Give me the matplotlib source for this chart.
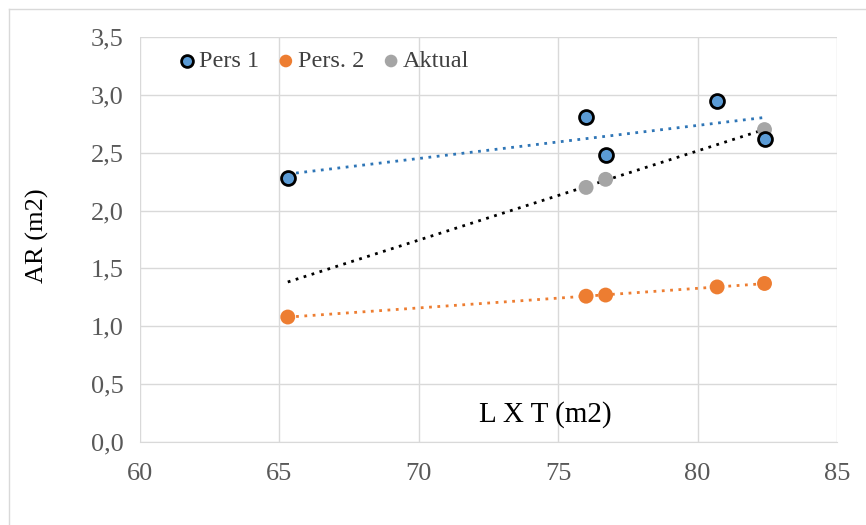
import numpy as np
import matplotlib
matplotlib.use("Agg")
import matplotlib.pyplot as plt
from matplotlib.lines import Line2D
from matplotlib.ticker import FuncFormatter

# ── Data ──────────────────────────────────────────────────────────────────────
x_pers1  = [65.3, 76.0, 76.7, 80.7, 82.4]
y_pers1  = [2.28, 2.81, 2.48, 2.95, 2.62]

x_pers2  = [65.3, 76.0, 76.7, 80.7, 82.4]
y_pers2  = [1.08, 1.26, 1.27, 1.34, 1.37]

x_aktual = [76.0, 76.7, 82.4]
y_aktual = [2.20, 2.27, 2.70]

x_ticks = [60, 65, 70, 75, 80, 85]
y_ticks = [0.0, 0.5, 1.0, 1.5, 2.0, 2.5, 3.0, 3.5]

plt.rcParams["font.family"] = ["Liberation Serif", "DejaVu Serif"]

fig = plt.figure(figsize=(8.66, 5.25), dpi=100)
ax = fig.add_axes([140 / 866, 1 - 442 / 525, 697 / 866, 405 / 525])

# chart-area frame (left and top edges visible)
fig.add_artist(Line2D([9 / 866, 9 / 866], [0, 1 - 9 / 525], color="#d9d9d9", lw=1))
fig.add_artist(Line2D([9 / 866, 1], [1 - 9 / 525, 1 - 9 / 525], color="#d9d9d9", lw=1))

# ── Trendlines ────────────────────────────────────────────────────────────────
xr = np.array([min(x_pers1), max(x_pers1)])
for xs, ys, col in [(x_pers1, y_pers1, "#2E75B6"),
                    (x_pers2, y_pers2, "#ED7D31"),
                    (x_aktual, y_aktual, "#000000")]:
    k, b = np.polyfit(xs, ys, 1)
    ax.plot(xr, k * xr + b, color=col, lw=2, linestyle=(0, (1, 2)), zorder=2)

# ── Scatter ───────────────────────────────────────────────────────────────────
ax.scatter(x_pers1, y_pers1, s=100, color="#5B9BD5", edgecolor="black",
           linewidth=2, zorder=4, label="Pers 1")
ax.scatter(x_pers2, y_pers2, s=115, color="#ED7D31", edgecolor="none",
           zorder=3, label="Pers. 2")
ax.scatter(x_aktual, y_aktual, s=115, color="#A5A5A5", edgecolor="none",
           zorder=3, label="Aktual")

# ── Axes styling ──────────────────────────────────────────────────────────────
ax.set_xlim(60, 85)
ax.set_ylim(0, 3.5)
ax.set_xticks(x_ticks)
ax.set_yticks(y_ticks)
ax.yaxis.set_major_formatter(FuncFormatter(lambda v, p: f"{v:.1f}".replace(".", ",")))
ax.grid(True, color="#d9d9d9", lw=1)
ax.set_axisbelow(True)
for s in ["top", "right", "left"]:
    ax.spines[s].set_visible(False)
ax.spines["bottom"].set_color("#d9d9d9")
ax.tick_params(length=0, labelsize=19, colors="#595959", pad=12)
ax.tick_params(axis="x", pad=15)

ax.set_ylabel("AR (m2)", fontsize=19, color="black")
ax.yaxis.set_label_coords(-0.13, 0.51)
ax.set_xlabel("L X T (m2)", fontsize=21, color="black")
ax.xaxis.set_label_coords(0.581, 0.10)

ax.legend(loc="upper left", bbox_to_anchor=(0.048, 0.985), ncol=3, frameon=False,
          fontsize=17.5, handlelength=0.5, handletextpad=0.24, columnspacing=0.86,
          borderaxespad=0.1, borderpad=0.2, markerscale=0.85, labelcolor="#404040")

fig.savefig("out.png", dpi=100)
